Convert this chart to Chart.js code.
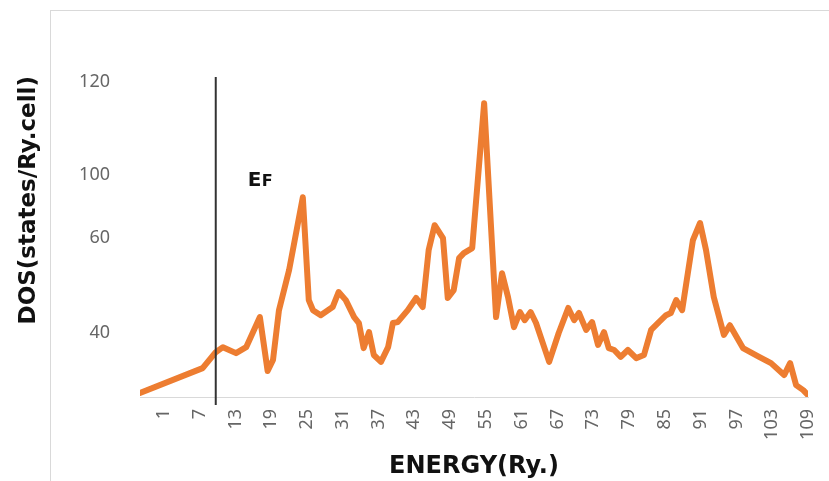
<!DOCTYPE html>
<html lang="en">
<head>
  <meta charset="UTF-8" />
  <title>DOS - Energy</title>
  <script src="https://cdn.jsdelivr.net/npm/chart.js"></script>
  <style>
    body {
      margin: 0;
      padding: 0;
      background: #fff;
      overflow: hidden;
    }

    .frame {
      position: absolute;
      left: 50px;
      top: 10px;
      width: 820px;
      height: 500px;
      border-left: 1px solid #d9d9d9;
      border-top: 1px solid #d9d9d9;
    }

    .chart-container {
      position: relative;
      width: 829px;
      height: 481px;
    }
  </style>
</head>
<body>

  <div class="frame"></div>
  <div class="chart-container"><canvas id="dosChart"></canvas></div>

  <script>
    // energy (Ry.) positions of the curve vertices
    const energy = [
      -3, 7.5, 9.7, 10.9, 13.1, 14.8, 17.1, 18.4, 19.3, 20.3,
      22.0, 24.3, 25.3, 26.0, 27.3, 29.3, 30.3, 31.5, 32.9, 33.7,
      34.5, 35.4, 36.2, 37.4, 38.6, 39.4, 40.2, 41.9, 43.3, 44.4,
      45.4, 46.4, 47.8, 48.6, 49.6, 50.5, 51.3, 52.7, 54.7, 56.7,
      57.7, 58.7, 59.7, 60.7, 61.5, 62.5, 63.4, 64.2, 65.6, 67.2,
      68.8, 69.8, 70.6, 71.8, 72.8, 73.8, 74.8, 75.6, 76.5, 77.6,
      78.8, 80.2, 81.5, 82.7, 84.0, 85.2, 86.0, 86.9, 87.9, 89.7,
      90.9, 91.9, 93.2, 94.9, 95.9, 98.1, 100.8, 102.8, 105.0, 106.0,
      107.0, 108.2, 109
    ];

    // DOS (states/Ry.cell)
    const dos = [
      20.9, 28.8, 33.9, 35.5, 33.6, 35.5, 45.1, 27.9, 31.4, 47.3,
      60.1, 83.3, 50.5, 47.3, 45.7, 48.3, 53.1, 50.5, 45.1, 43.2,
      35.2, 40.3, 33.0, 30.8, 35.5, 43.2, 43.5, 47.3, 51.2, 48.3,
      66.5, 74.4, 70.3, 51.2, 53.7, 63.9, 65.5, 67.1, 113.3, 45.1,
      59.1, 51.5, 41.9, 46.7, 44.1, 46.7, 43.2, 38.7, 30.8, 40.0,
      48.0, 44.1, 46.4, 41.0, 43.5, 36.2, 40.3, 35.2, 34.6, 32.4,
      34.6, 32.0, 33.0, 41.0, 43.5, 45.7, 46.4, 50.5, 47.3, 69.6,
      75.1, 66.5, 51.5, 39.4, 42.5, 35.2, 32.4, 30.4, 26.6, 30.4,
      23.4, 21.8, 20.2
    ];

    const xTicks = [1, 7, 13, 19, 25, 31, 37, 43, 49, 55, 61, 67, 73, 79, 85, 91, 97, 103, 109];

    // the y labels in the picture are not evenly spaced
    const yTickValues = [40, 70.3, 90.4, 120];
    const yTickLabels = ['40', '60', '100', '120'];

    const fermiEnergy = 9.7;
    const fermiLabelY = 87;

    const fermiLine = {
      id: 'fermiLine',
      afterDatasetsDraw(chart) {
        const { ctx, chartArea, scales } = chart;
        const x = scales.x.getPixelForValue(fermiEnergy);
        const y = scales.y.getPixelForValue(fermiLabelY);
        ctx.save();
        ctx.strokeStyle = '#333';
        ctx.lineWidth = 2;
        ctx.beginPath();
        ctx.moveTo(x, chartArea.top + 1);
        ctx.lineTo(x, chartArea.bottom + 8);
        ctx.stroke();

        ctx.fillStyle = '#111';
        ctx.textBaseline = 'alphabetic';
        ctx.font = 'bold 20px "DejaVu Sans"';
        ctx.fillText('E', x + 32, y);
        ctx.font = 'bold 16px "DejaVu Sans"';
        ctx.fillText('F', x + 46, y);
        ctx.restore();
      }
    };

    new Chart(document.getElementById('dosChart').getContext('2d'), {
      type: 'line',
      data: {
        datasets: [{
          label: 'DOS',
          data: energy.map((e, i) => ({ x: e, y: dos[i] })),
          borderColor: '#ED7D31',
          borderWidth: 6,
          borderJoinStyle: 'round',
          borderCapStyle: 'round',
          pointRadius: 0,
          tension: 0,
          fill: false
        }]
      },
      options: {
        responsive: true,
        maintainAspectRatio: false,
        animation: false,
        layout: {
          padding: { top: 76, right: 21, left: 0, bottom: 0 }
        },
        plugins: {
          legend: { display: false },
          tooltip: { enabled: false }
        },
        scales: {
          x: {
            type: 'linear',
            min: -3,
            max: 109,
            afterBuildTicks: scale => {
              scale.ticks = xTicks.map(v => ({ value: v }));
            },
            afterFit: scale => {
              scale.height = 84;
              scale.paddingLeft = 0;
              scale.paddingRight = 0;
            },
            grid: { display: false, drawTicks: false },
            border: { display: true, color: '#d9d9d9', width: 1 },
            ticks: {
              autoSkip: false,
              minRotation: 90,
              maxRotation: 90,
              padding: 12,
              color: '#666',
              font: { family: '"Noto Sans"', size: 18 },
              callback: v => String(v)
            },
            title: {
              display: true,
              text: 'ENERGY(Ry.)',
              color: '#111',
              font: { family: '"DejaVu Sans"', size: 24, weight: 'bold' },
              padding: { top: 0, bottom: 0 }
            }
          },
          y: {
            min: 19.6,
            max: 122,
            afterBuildTicks: scale => {
              scale.ticks = yTickValues.map(v => ({ value: v }));
            },
            afterFit: scale => {
              scale.width = 140;
            },
            grid: { display: false, drawTicks: false },
            border: { display: false },
            ticks: {
              padding: 30,
              color: '#666',
              font: { family: '"Noto Sans"', size: 18 },
              callback: (v, i) => yTickLabels[i]
            },
            title: {
              display: true,
              text: 'DOS(states/Ry.cell)',
              align: 'end',
              color: '#111',
              font: { family: '"DejaVu Sans"', size: 23, weight: 'bold' },
              padding: { top: 15, bottom: 0 }
            }
          }
        }
      },
      plugins: [fermiLine]
    });
  </script>

</body>
</html>
